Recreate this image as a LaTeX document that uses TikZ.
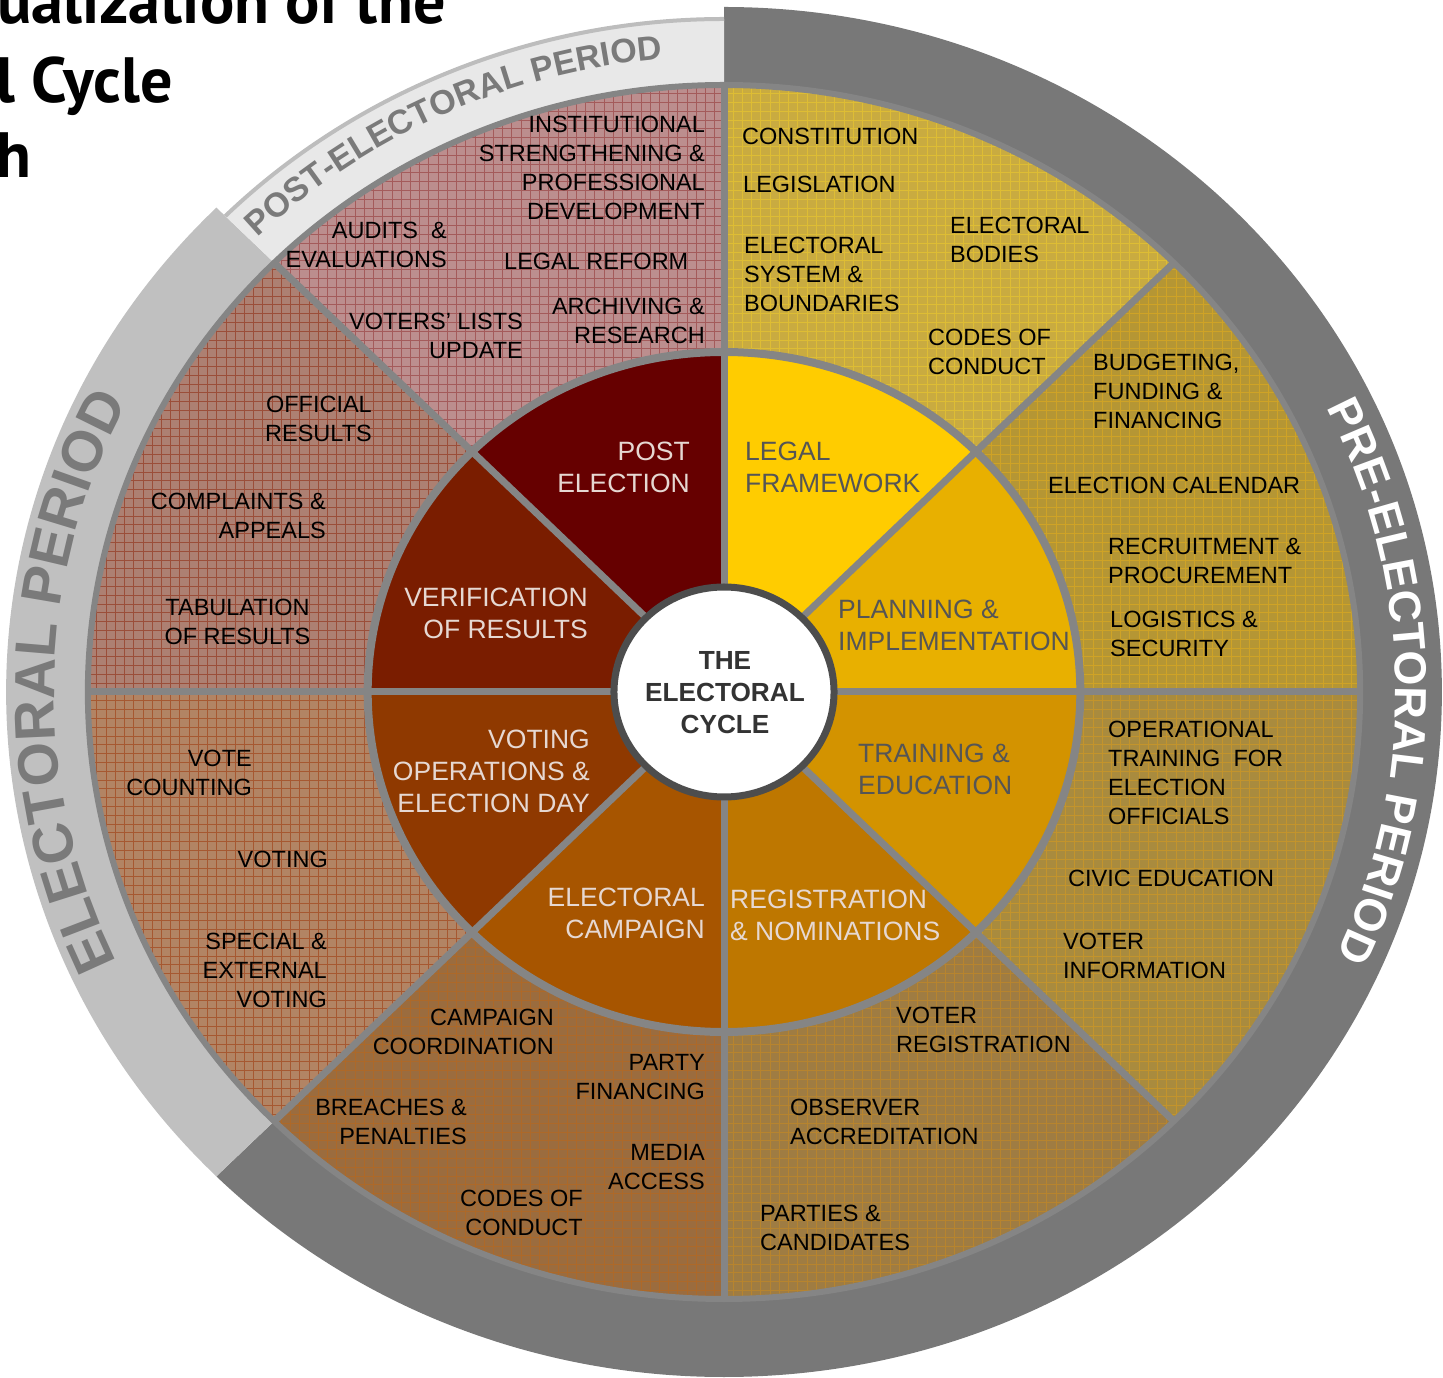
\documentclass[tikz,border=0pt]{standalone}
\usepackage{fontspec}
\setmainfont{Liberation Sans}
\newfontfamily\titlefont{PT Sans}
\usetikzlibrary{decorations.text}

\definecolor{banddark}{HTML}{787878}
\definecolor{bandmid}{HTML}{C0C0C0}
\definecolor{bandlight}{HTML}{E8E8E8}
\definecolor{bandedge}{HTML}{BDBDBD}
\definecolor{ringtext}{HTML}{7A7A7A}
\definecolor{sepgray}{HTML}{858585}
\definecolor{rim}{HTML}{4D4D4D}
\definecolor{inlight}{HTML}{E6D8D2}
\definecolor{indark}{HTML}{555555}
\definecolor{ctext}{HTML}{333333}

\definecolor{inLegal}{HTML}{FFCC00}
\definecolor{inPlan}{HTML}{E8B000}
\definecolor{inTrain}{HTML}{D39300}
\definecolor{inReg}{HTML}{BE7700}
\definecolor{inCamp}{HTML}{A75500}
\definecolor{inVote}{HTML}{8F3900}
\definecolor{inVerif}{HTML}{7A1D00}
\definecolor{inPost}{HTML}{660000}

\definecolor{outLegal}{HTML}{C9AB40}
\definecolor{gridLegal}{HTML}{E6C430}
\definecolor{outPlan}{HTML}{B59634}
\definecolor{gridPlan}{HTML}{D8A822}
\definecolor{outTrain}{HTML}{A98B3E}
\definecolor{gridTrain}{HTML}{CC9826}
\definecolor{outReg}{HTML}{9F7C42}
\definecolor{gridReg}{HTML}{C08828}
\definecolor{outCamp}{HTML}{9B6C3E}
\definecolor{gridCamp}{HTML}{B46822}
\definecolor{outVote}{HTML}{B28464}
\definecolor{gridVote}{HTML}{A24A20}
\definecolor{outVerif}{HTML}{AD8072}
\definecolor{gridVerif}{HTML}{963E26}
\definecolor{outPost}{HTML}{BC8E8E}
\definecolor{gridPost}{HTML}{9C4A4A}

\newcommand\postfmt{\fontsize{34}{40}\selectfont\bfseries\color{ringtext}}
\newcommand\elecfmt{\fontsize{57}{60}\selectfont\bfseries\color{ringtext}}
\newcommand\prefmt{\fontsize{45}{50}\selectfont\bfseries\color{white}}

\tikzset{
  outlbl/.style={font=\fontsize{23.5}{29}\selectfont, inner sep=0pt, text=black},
  inlbl/.style={font=\fontsize{26.5}{32}\selectfont, inner sep=0pt},
  lightlbl/.style={inlbl, text=inlight},
  darklbl/.style={inlbl, text=indark},
  centerlbl/.style={font=\fontsize{26.2}{32}\selectfont\bfseries, inner sep=0pt, text=ctext},
  titlelbl/.style={font=\titlefont\bfseries\fontsize{64}{70}\selectfont, inner sep=0pt, text=black},
  sepline/.style={draw=sepgray, line width=7pt},
  ringpath/.style={decorate, decoration={text along path, text align=center, text={#1}}}
}

\begin{document}
\begin{tikzpicture}[x=1pt,y=1pt]
\useasboundingbox (0,0) rectangle (1443,1377);

\begin{scope}[shift={(724,685)}, xscale=1.048]
  % period bands
  \fill[banddark] (-135:607) arc[start angle=-135,end angle=90,radius=607] -- (90:685) arc[start angle=90,end angle=-135,radius=685] -- cycle;
  \fill[bandmid] (135:607) arc[start angle=135,end angle=225,radius=607] -- (225:685) arc[start angle=225,end angle=135,radius=685] -- cycle;
  \fill[bandlight] (90:607) arc[start angle=90,end angle=135,radius=607] -- (135:673) arc[start angle=135,end angle=90,radius=673] -- cycle;
  \draw[bandedge, line width=4pt] (90:673) arc[start angle=90,end angle=135,radius=673];

  % outer segments with grid texture
  \foreach \a/\b/\nm in {45/90/Legal, 0/45/Plan, -45/0/Train, -90/-45/Reg, -135/-90/Camp, 180/225/Vote, 135/180/Verif, 90/135/Post} {
    \begin{scope}
      \clip (\a:340) arc[start angle=\a,end angle=\b,radius=340] -- (\b:607) arc[start angle=\b,end angle=\a,radius=607] -- cycle;
      \fill[out\nm] (-620,-620) rectangle (620,620);
      \draw[grid\nm, line width=0.8pt, opacity=0.75, step=8.8] (-620,-620) grid (620,620);
    \end{scope}
  }

  % inner segments
  \foreach \a/\b/\nm in {45/90/Legal, 0/45/Plan, -45/0/Train, -90/-45/Reg, -135/-90/Camp, 180/225/Vote, 135/180/Verif, 90/135/Post} {
    \fill[in\nm] (0,0) -- (\a:340) arc[start angle=\a,end angle=\b,radius=340] -- cycle;
  }

  % separators
  \draw[sepgray, line width=6pt] (0,0) circle[radius=607];
  \draw[sepgray, line width=8pt] (0,0) circle[radius=340];
  \foreach \a in {0,45,...,315} { \draw[sepline] (\a:100) -- (\a:607); }

  % centre disc
  \draw[fill=white, draw=rim, line width=7pt] (0,0) circle[radius=105];
\end{scope}

% curved period titles
\begin{scope}[shift={(724,685)}]
  \path[ringpath={|\postfmt|POST-ELECTORAL PERIOD}] (145:666.5 and 636) arc[start angle=145,end angle=85,x radius=666.5,y radius=636];
  \path[ringpath={|\elecfmt|ELECTORAL PERIOD}] (215:669.7 and 639) arc[start angle=215,end angle=143,x radius=669.7,y radius=639];
  \path[ringpath={|\prefmt|PRE-ELECTORAL PERIOD}] (40:671.8 and 641) arc[start angle=40,end angle=-38,x radius=671.8,y radius=641];
\end{scope}

\begin{scope}[shift={(0,1377)}, y=-1pt]
  % title fragments
  \node[titlelbl, anchor=base west] (t1) at (-3,24) {ualization of the};
  \node[titlelbl, anchor=base west] (t2) at (-4,103) {l Cycle};
  \node[titlelbl, anchor=base west] (t3) at (-4,178) {h};

  % inner ring labels (positions are last-line baselines)
  \node[lightlbl, align=right, anchor=base east] (ipost) at (690,492.5) {POST\\ELECTION};
  \node[darklbl, align=left, anchor=base west] (ilegal) at (745,492.5) {LEGAL\\FRAMEWORK};
  \node[darklbl, align=left, anchor=base west] (iplan) at (838,650.5) {PLANNING \&\\IMPLEMENTATION};
  \node[darklbl, align=left, anchor=base west] (itrain) at (858,794.5) {TRAINING \&\\EDUCATION};
  \node[lightlbl, align=left, anchor=base west] (ireg) at (730,940.5) {REGISTRATION\\\& NOMINATIONS};
  \node[lightlbl, align=right, anchor=base east] (icamp) at (705,938.5) {ELECTORAL\\CAMPAIGN};
  \node[lightlbl, align=right, anchor=base east] (ivote) at (590,812.5) {VOTING\\OPERATIONS \&\\ELECTION DAY};
  \node[lightlbl, align=right, anchor=base east] (iverif) at (588,638.5) {VERIFICATION\\OF RESULTS};
  \node[centerlbl, align=center, anchor=base] (ctr) at (725,733.4) {THE\\ELECTORAL\\CYCLE};

  % post-election activities
  \node[outlbl, align=right, anchor=base east] (o1) at (705,219.4) {INSTITUTIONAL\\STRENGTHENING \&\\PROFESSIONAL\\DEVELOPMENT};
  \node[outlbl, align=right, anchor=base east] (o2) at (447,267.4) {AUDITS\ \ \&\\EVALUATIONS};
  \node[outlbl, align=left, anchor=base west] (o3) at (504,269.4) {LEGAL REFORM};
  \node[outlbl, align=right, anchor=base east] (o4) at (523,358.4) {VOTERS’ LISTS\\UPDATE};
  \node[outlbl, align=right, anchor=base east] (o5) at (705,343.4) {ARCHIVING \&\\RESEARCH};

  % verification activities
  \node[outlbl, align=right, anchor=base east] (o6) at (372,441.4) {OFFICIAL\\RESULTS};
  \node[outlbl, align=right, anchor=base east] (o7) at (326,538.4) {COMPLAINTS \&\\APPEALS};
  \node[outlbl, align=center, anchor=base] (o8) at (237.5,644.4) {TABULATION\\OF RESULTS};

  % voting activities
  \node[outlbl, align=right, anchor=base east] (o9) at (252,795.4) {VOTE\\COUNTING};
  \node[outlbl, align=right, anchor=base east] (o10) at (328,867.4) {VOTING};
  \node[outlbl, align=right, anchor=base east] (o11) at (327,1007.4) {SPECIAL \&\\EXTERNAL\\VOTING};

  % campaign activities
  \node[outlbl, align=right, anchor=base east] (o12) at (554,1054.4) {CAMPAIGN\\COORDINATION};
  \node[outlbl, align=right, anchor=base east] (o13) at (705,1099.4) {PARTY\\FINANCING};
  \node[outlbl, align=right, anchor=base east] (o14) at (467,1144.4) {BREACHES \&\\PENALTIES};
  \node[outlbl, align=right, anchor=base east] (o15) at (705,1189.4) {MEDIA\\ACCESS};
  \node[outlbl, align=right, anchor=base east] (o16) at (583,1235.4) {CODES OF\\CONDUCT};

  % registration activities
  \node[outlbl, align=left, anchor=base west] (o17) at (896,1052.4) {VOTER\\REGISTRATION};
  \node[outlbl, align=left, anchor=base west] (o18) at (790,1144.4) {OBSERVER\\ACCREDITATION};
  \node[outlbl, align=left, anchor=base west] (o19) at (760,1250.4) {PARTIES \&\\CANDIDATES};

  % training activities
  \node[outlbl, align=left, anchor=base west] (o20) at (1108,824.4) {OPERATIONAL\\TRAINING\ \ FOR\\ELECTION\\OFFICIALS};
  \node[outlbl, align=left, anchor=base west] (o21) at (1068,886.4) {CIVIC EDUCATION};
  \node[outlbl, align=left, anchor=base west] (o22) at (1063,978.4) {VOTER\\INFORMATION};

  % planning activities
  \node[outlbl, align=left, anchor=base west] (o23) at (1093,428.4) {BUDGETING,\\FUNDING \&\\FINANCING};
  \node[outlbl, align=left, anchor=base west] (o24) at (1048,493.4) {ELECTION CALENDAR};
  \node[outlbl, align=left, anchor=base west] (o25) at (1108,584) {RECRUITMENT \&\\PROCUREMENT};
  \node[outlbl, align=left, anchor=base west] (o26) at (1110,656.4) {LOGISTICS \&\\SECURITY};

  % legal framework activities
  \node[outlbl, align=left, anchor=base west] (o27) at (742,144.4) {CONSTITUTION};
  \node[outlbl, align=left, anchor=base west] (o28) at (743,192.4) {LEGISLATION};
  \node[outlbl, align=left, anchor=base west] (o29) at (744,311.4) {ELECTORAL\\SYSTEM \&\\BOUNDARIES};
  \node[outlbl, align=left, anchor=base west] (o30) at (950,262.4) {ELECTORAL\\BODIES};
  \node[outlbl, align=left, anchor=base west] (o31) at (928,374.4) {CODES OF\\CONDUCT};
\end{scope}
\end{tikzpicture}
\end{document}
